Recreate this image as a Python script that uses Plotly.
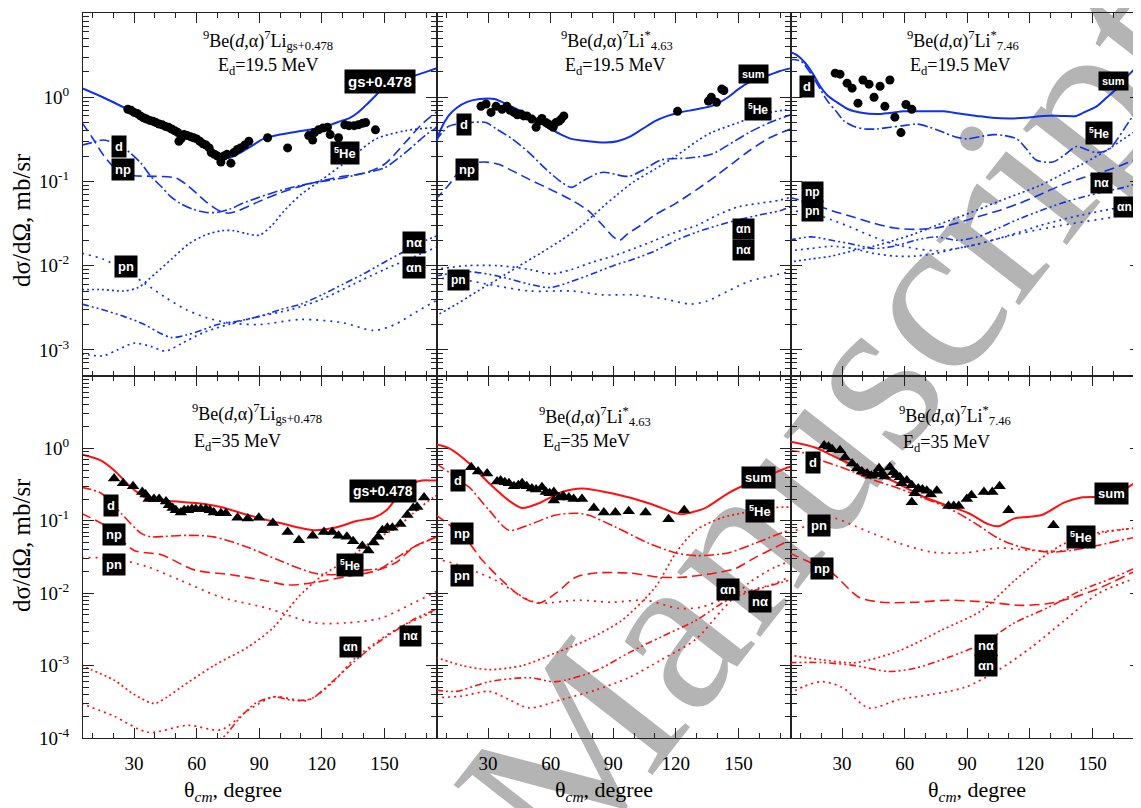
import numpy as np
import plotly.graph_objects as go

# ---------------- data (angles in degrees, cross sections in mb/sr) ----------------
# Panel 1: 9Be(d,a)7Li gs+0.478, Ed=19.5 MeV
p1_exp_x = [27,28.5,30,31.5,33,34.5,36,37.5,39,40.5,42,43.5,45,46.5,48,49.5,51,51.5,52.5,54,55.5,57,58.5,60,61.5,63,64.5,66,67,68.5,70,71.6,73,74.5,76.4,77.8,79.5,81,83,85,94,103.6,113.7,115.6,116.5,118.4,120.5,122.7,124,128,131,133,135.5,137.5,139.5,141,145.7]
p1_exp_y = [0.72,0.70,0.66,0.64,0.60,0.57,0.55,0.53,0.52,0.50,0.48,0.47,0.45,0.44,0.42,0.40,0.38,0.30,0.32,0.36,0.35,0.34,0.33,0.32,0.30,0.28,0.27,0.25,0.22,0.21,0.20,0.17,0.20,0.21,0.165,0.22,0.24,0.25,0.27,0.30,0.33,0.25,0.35,0.31,0.38,0.41,0.43,0.44,0.36,0.33,0.47,0.46,0.46,0.47,0.49,0.50,0.41]
p1_sum_x = [5,15,25,35,45,53,60,65,70,75,81,87,92,100,108,116,124,129,133,137,141,145,149,153,158,164,170,176]
p1_sum_y = [1.28,1.0,0.76,0.58,0.46,0.38,0.31,0.26,0.22,0.19,0.22,0.27,0.32,0.36,0.39,0.42,0.47,0.52,0.56,0.65,0.8,1.0,1.25,1.42,1.56,1.78,2.0,2.25]
p1_d_x = [5,10,15,20,25,28,33,38,43,47,52,58,64,70,76,82,90,100,110,120,130,140,150,160,170,176]
p1_d_y = [0.27,0.29,0.31,0.29,0.25,0.22,0.168,0.115,0.087,0.068,0.055,0.047,0.043,0.043,0.047,0.055,0.065,0.078,0.09,0.1,0.11,0.125,0.145,0.22,0.36,0.45]
p1_np_x = [5,10,15,20,25,30,40,50,55,60,65,70,75,80,90,100,110,120,130,140,150,160,168,176]
p1_np_y = [0.5,0.33,0.21,0.15,0.125,0.117,0.115,0.11,0.092,0.072,0.056,0.046,0.042,0.045,0.058,0.073,0.088,0.102,0.115,0.125,0.16,0.29,0.48,0.7]
p1_he_x = [5,15,25,32,40,48,56,64,72,78,84,90,96,102,110,120,130,137,146,160,176]
p1_he_y = [0.0052,0.0052,0.005,0.0055,0.008,0.012,0.018,0.023,0.026,0.026,0.024,0.023,0.03,0.045,0.07,0.105,0.16,0.22,0.32,0.4,0.44]
p1_pn_x = [5,15,25,35,45,55,65,75,90,110,130,145,155,165,176]
p1_pn_y = [0.014,0.012,0.009,0.0062,0.0042,0.003,0.0024,0.0021,0.002,0.0023,0.0021,0.0017,0.002,0.0028,0.004]
p1_na_x = [5,15,25,35,42,48,55,62,70,80,90,100,110,120,130,140,150,160,170,176]
p1_na_y = [0.0035,0.003,0.0025,0.002,0.0016,0.0014,0.0015,0.0017,0.002,0.0022,0.0025,0.003,0.0035,0.0045,0.006,0.008,0.011,0.015,0.02,0.023]
p1_an_x = [5,15,22,30,38,45,53,63,75,90,105,120,135,150,165,176]
p1_an_y = [0.0009,0.00085,0.001,0.0012,0.0011,0.00097,0.0012,0.0016,0.002,0.0025,0.003,0.004,0.006,0.009,0.013,0.017]

# Panel 2: 9Be(d,a)7Li* 4.63, Ed=19.5 MeV
p2_exp_x = [26.6,29,31.4,33.8,36.7,39,40.5,42.4,44,45.8,47,48.6,51,53,54.5,55.8,57.7,59,60,61.2,62.5,64,65,66.3,120.8,135.6,137,139.5,142,143]
p2_exp_y = [0.78,0.83,0.66,0.78,0.72,0.78,0.70,0.66,0.62,0.63,0.60,0.60,0.55,0.44,0.52,0.56,0.50,0.48,0.46,0.44,0.50,0.52,0.55,0.60,0.68,0.90,1.0,0.87,1.25,1.2]
p2_sum_x = [4.5,7,11,15,20,26,33,40,45,50,55,60,65,70,78,86,92,98,104,110,116,122,130,138,145,150,155,160,165,170,175]
p2_sum_y = [0.25,0.4,0.6,0.75,0.88,0.95,0.95,0.8,0.7,0.6,0.5,0.42,0.36,0.32,0.3,0.29,0.3,0.34,0.42,0.52,0.6,0.66,0.72,0.8,1.0,1.25,1.5,1.7,1.85,2.05,2.2]
p2_d_x = [4.5,8,11,15,21,29,34,41.5,49.6,57.7,65.4,70,75,84.5,97.4,105,113,126,137,145,155,165,175]
p2_d_y = [0.3,0.38,0.45,0.48,0.5,0.5,0.42,0.32,0.22,0.14,0.097,0.085,0.1,0.128,0.115,0.14,0.18,0.19,0.21,0.27,0.38,0.5,0.62]
p2_np_x = [4.5,11,16,21,28,35,40,50,60,70,78,85,90,93,97,103,110,120,130,140,148,155,165,175]
p2_np_y = [0.06,0.09,0.13,0.16,0.17,0.16,0.14,0.105,0.08,0.06,0.045,0.03,0.022,0.02,0.024,0.03,0.04,0.055,0.08,0.12,0.17,0.23,0.33,0.42]
p2_he_x = [4.5,15,25,35,45,55,65,75,85,92,100,110,120,130,137,150,161,175]
p2_he_y = [0.0025,0.0035,0.005,0.007,0.01,0.014,0.02,0.03,0.05,0.07,0.1,0.14,0.2,0.3,0.38,0.5,0.63,0.72]
p2_pn_x = [4.5,15,30,50,70,85,100,115,127,135,145,155,165,175]
p2_pn_y = [0.007,0.007,0.006,0.005,0.005,0.0045,0.0045,0.004,0.0035,0.0038,0.005,0.0065,0.0075,0.0085]
p2_an_x = [4.5,20,35,50,60,70,80,90,100,110,120,130,140,150,160,170,175]
p2_an_y = [0.009,0.01,0.01,0.009,0.008,0.009,0.011,0.013,0.016,0.02,0.025,0.03,0.04,0.05,0.055,0.06,0.065]
p2_na_x = [4.5,20,35,50,60,70,80,90,100,110,120,130,140,150,160,170,175]
p2_na_y = [0.0075,0.0085,0.0075,0.006,0.0055,0.0065,0.008,0.01,0.012,0.015,0.02,0.025,0.03,0.035,0.04,0.045,0.05]

# Panel 3: 9Be(d,a)7Li* 7.46, Ed=19.5 MeV
p3_exp_x = [26.7,29,32.4,34.8,37.6,40,42.9,45.3,48.2,50.5,52.9,55.3,58.2,60.6,63.4]
p3_exp_y = [1.93,1.88,1.47,1.28,0.85,1.6,1.43,1.0,1.35,0.78,1.6,0.58,0.38,0.82,0.72]
p3_sum_x = [4.5,8,12,16,19.5,23,27.6,33,38.6,46.7,53,59.6,70,78.8,86,94.5,102,110,118,126.5,135,142.3,147,152,157,161.5,166,171.5,174]
p3_sum_y = [3.5,3.2,2.6,1.9,1.35,1.05,0.87,0.72,0.66,0.63,0.65,0.68,0.68,0.68,0.64,0.6,0.57,0.56,0.57,0.6,0.6,0.6,0.68,0.78,1.0,1.25,1.7,2.3,2.6]
p3_d_x = [4.5,10,15,19.5,23,27.6,31,35.7,41,46.7,53,59.6,65.8,72,78.8,84,89.8,96,102.7,108,113.7,118,123,131,137,142.3,147,152,158,162,166,171.5,174]
p3_d_y = [2.8,2.7,1.9,1.25,0.9,0.66,0.52,0.45,0.42,0.42,0.44,0.46,0.48,0.44,0.38,0.34,0.32,0.34,0.36,0.35,0.32,0.25,0.18,0.17,0.21,0.26,0.24,0.22,0.24,0.32,0.45,0.72,0.9]
p3_grid = [4.5,15,25,35,45,55,65,75,85,95,105,115,125,135,145,155,165,174]
p3_np_y = [0.065,0.055,0.045,0.038,0.032,0.028,0.027,0.028,0.032,0.038,0.045,0.055,0.07,0.09,0.11,0.13,0.16,0.2]
p3_pn_y = [0.045,0.042,0.035,0.028,0.022,0.018,0.016,0.015,0.016,0.018,0.021,0.024,0.027,0.03,0.033,0.036,0.04,0.045]
p3_he_y = [0.011,0.012,0.013,0.015,0.017,0.02,0.024,0.03,0.037,0.046,0.058,0.072,0.09,0.12,0.16,0.22,0.32,0.45]
p3_na_y = [0.02,0.022,0.02,0.018,0.016,0.017,0.02,0.022,0.02,0.022,0.028,0.036,0.045,0.055,0.065,0.075,0.085,0.1]
p3_an_y = [0.015,0.016,0.017,0.016,0.014,0.013,0.013,0.014,0.016,0.018,0.021,0.025,0.03,0.035,0.04,0.045,0.05,0.055]

# Panel 4: 9Be(d,a)7Li gs+0.478, Ed=35 MeV
p4_exp_x = [20.4,24.7,29.5,33.9,35.5,37,39.5,42,45.3,46.7,48.5,50,52.4,54,55.8,57.7,59.6,62,64.4,66.3,68.2,71.6,74,79.6,84.5,89.8,96.5,103.6,109,115.6,121,125,128,132,135,139.4,142.3,144.8,147,149,151.4,153.8,157.6,161,163.8,165.7,169]
p4_exp_y = [0.385,0.33,0.30,0.25,0.23,0.20,0.20,0.20,0.185,0.164,0.15,0.14,0.13,0.14,0.14,0.145,0.145,0.145,0.145,0.14,0.13,0.127,0.127,0.11,0.108,0.11,0.093,0.07,0.054,0.062,0.07,0.07,0.062,0.06,0.052,0.045,0.039,0.05,0.06,0.074,0.08,0.08,0.09,0.12,0.15,0.155,0.21]
p4_sum_x = [4.7,14.2,20.4,28.6,36.7,49,60.6,71.6,84.5,100,116,126,137,144.8,151,157.6,163.8,168,173.4,176]
p4_sum_y = [0.83,0.68,0.5,0.29,0.2,0.186,0.175,0.155,0.12,0.093,0.074,0.08,0.1,0.11,0.14,0.24,0.33,0.36,0.36,0.36]
p4_d_x = [4.7,14.2,23.8,33.4,38,45,55.8,68.2,84.5,100,116,125.6,141.9,148,156,163.8,173.4,176]
p4_d_y = [0.29,0.24,0.126,0.067,0.06,0.061,0.063,0.06,0.043,0.028,0.019,0.018,0.021,0.022,0.031,0.043,0.057,0.06]
p4_np_x = [4.7,17.6,30,43,58.8,76.5,92.3,103.6,116,132,144.8,156,163.8,175]
p4_np_y = [0.127,0.081,0.039,0.034,0.021,0.018,0.015,0.013,0.014,0.017,0.02,0.027,0.043,0.06]
p4_pn_x = [4.7,20.4,36.7,52.4,71.6,94,116,132,148,163.8,173.4,176]
p4_pn_y = [0.031,0.03,0.023,0.015,0.0088,0.0062,0.0039,0.0039,0.0045,0.0073,0.01,0.011]
p4_he_x = [4.7,20.4,30,39.6,46,52.4,68.2,84.5,97,108.6,119.6,132,144.8,156,163.8,173.4,176]
p4_he_y = [0.001,0.00063,0.0004,0.0003,0.00037,0.0005,0.001,0.0018,0.0034,0.0088,0.017,0.029,0.054,0.081,0.127,0.21,0.23]
p4_an_x = [4.7,20.4,36.7,55.8,71.6,84.5,97,113,125.6,135,148,157.6,172,176]
p4_an_y = [0.0003,0.0002,0.00012,0.00015,0.00013,0.00024,0.00037,0.00033,0.0006,0.0012,0.0023,0.0034,0.0053,0.006]
p4_na_x = [40,60,72,80,88,97,106,115,125,135,145,155,165,176]
p4_na_y = [0.00007,0.00009,0.0001,0.00018,0.0003,0.00037,0.00033,0.00035,0.0006,0.0011,0.0019,0.003,0.0045,0.0062]

# Panel 5: 9Be(d,a)7Li* 4.63, Ed=35 MeV
p5_exp_x = [21.9,25.2,29.5,34.3,36,38,40,42.4,44.5,46.3,48.5,51,53,55.8,57.7,59.5,61.5,61.5,64,66,68.7,71,75,80.7,85.5,91,97.4,105.5,116.5,124]
p5_exp_y = [0.55,0.48,0.45,0.35,0.36,0.34,0.33,0.30,0.31,0.33,0.30,0.28,0.27,0.29,0.25,0.24,0.25,0.19,0.21,0.22,0.21,0.20,0.20,0.15,0.13,0.13,0.135,0.13,0.105,0.14]
p5_sum_x = [5.1,11.4,21,30.5,40,46.3,54.4,65.4,75,89.3,107,120,123,134,145,154.8,164,174,175.5]
p5_sum_y = [1.14,1.0,0.62,0.33,0.19,0.15,0.175,0.25,0.28,0.24,0.175,0.127,0.123,0.15,0.24,0.33,0.42,0.55,0.56]
p5_d_x = [5,12,18,21,30.5,40,49.6,62.5,72,78,91,107,120,129.5,145,158,167.7,174]
p5_d_y = [0.62,0.45,0.33,0.29,0.14,0.074,0.088,0.12,0.127,0.12,0.082,0.049,0.036,0.033,0.036,0.049,0.063,0.074]
p5_np_x = [5,12,21,27,36.7,46.3,54.4,62.5,72,81.6,97.4,113,123,139,148.6,158,167.7,174]
p5_np_y = [0.12,0.085,0.049,0.029,0.015,0.0088,0.0073,0.01,0.0166,0.019,0.019,0.0166,0.0166,0.019,0.022,0.031,0.043,0.053]
p5_pn_x = [5,15,25.7,33.8,49.6,55.8,73.5,89.3,105.5,121,132,145,156,167.7,174]
p5_pn_y = [0.03,0.025,0.019,0.015,0.008,0.0073,0.008,0.0075,0.008,0.0062,0.0064,0.0088,0.011,0.0137,0.0166]
p5_he_x = [5,17.6,30.5,46.3,62.5,78,94,110,120,129.5,142,153,164,174]
p5_he_y = [0.0013,0.001,0.00088,0.001,0.0015,0.0023,0.0042,0.012,0.036,0.074,0.11,0.13,0.15,0.155]
p5_na_x = [5,14.7,30.5,49.6,62.5,81.6,97.4,113,129.5,145,158,174]
p5_na_y = [0.00046,0.00044,0.0006,0.00068,0.0006,0.00085,0.0015,0.0025,0.0042,0.0081,0.011,0.015]
p5_an_x = [5,17.6,30.5,40,49.6,65.4,81.6,97.4,113,129.5,142,154.8,167.7,174]
p5_an_y = [0.00036,0.00038,0.00044,0.00034,0.00026,0.00034,0.00046,0.00068,0.0012,0.0023,0.0058,0.0137,0.023,0.027]

# Panel 6: 9Be(d,a)7Li* 7.46, Ed=35 MeV
p6_exp_x = [21.4,23.5,25.2,29,31.4,34.8,37.2,39.5,42,44,46,47.7,49,50.5,52.9,54.5,56,57.7,58.5,61,63.4,64.8,63.4,66.5,68.5,70.6,72.5,75.4,81,83.5,85.9,89.8,92,98,102,105.5,109.8,131.3]
p6_exp_y = [1.1,1.05,0.97,0.94,0.75,0.62,0.53,0.48,0.45,0.42,0.44,0.53,0.45,0.41,0.55,0.47,0.43,0.40,0.33,0.36,0.31,0.24,0.18,0.28,0.27,0.26,0.23,0.26,0.16,0.16,0.16,0.20,0.225,0.25,0.25,0.30,0.14,0.087]
p6_sum_x = [4.7,17,25.2,33.3,42.9,53.9,68.2,81,90.7,100,105,112.7,125.6,136.6,144.7,160.5,167,171.5,174]
p6_sum_y = [1.25,1.03,0.8,0.62,0.47,0.36,0.22,0.16,0.127,0.09,0.084,0.108,0.12,0.18,0.21,0.22,0.29,0.35,0.38]
p6_d_x = [4.7,10.9,20.4,33.3,45.8,57.3,68.2,81,93.6,105,116,129,140,153,163.8,171.5,174]
p6_d_y = [0.94,0.88,0.68,0.5,0.36,0.28,0.21,0.15,0.093,0.057,0.043,0.037,0.039,0.046,0.054,0.06,0.062]
p6_pn_x = [4.7,15,25.2,34,42.9,57.3,73,88.8,105,120.8,136.6,154,171.5,174]
p6_pn_y = [0.067,0.09,0.11,0.09,0.07,0.049,0.037,0.036,0.042,0.039,0.039,0.067,0.08,0.082]
p6_np_x = [4.7,14.2,25.2,38,49,64.8,81,100,116,129,141.4,154,171.5,174]
p6_np_y = [0.036,0.027,0.019,0.0088,0.0075,0.0075,0.008,0.0075,0.0068,0.0072,0.0088,0.012,0.021,0.023]
p6_he_x = [4.7,20.4,36.2,57.3,77.8,97,112.7,129,140,153,171.5,174]
p6_he_y = [0.0014,0.0012,0.0011,0.0016,0.0031,0.0058,0.015,0.036,0.054,0.069,0.08,0.082]
p6_na_x = [4.7,20.4,36.2,52.4,64.8,81,97,112.7,129,144.7,160.5,171.5,174]
p6_na_y = [0.0011,0.0011,0.001,0.00083,0.00092,0.0013,0.002,0.0039,0.0064,0.011,0.0166,0.023,0.025]
p6_an_x = [4.7,12,20.4,30,42.9,57.3,73,88.8,105,120.8,136.6,153,171.5,174]
p6_an_y = [0.00041,0.00052,0.0006,0.0005,0.00026,0.00034,0.0004,0.0005,0.00087,0.0018,0.0042,0.01,0.0166,0.018]

# axis tick labels and texts
x_ticks = [30, 60, 90, 120, 150]
y_ticks_top = [1e-3, 1e-2, 1e-1, 1]
y_ticks_bot = [1e-4, 1e-3, 1e-2, 1e-1, 1]
titles = ["<sup>9</sup>Be(<i>d</i>,α)<sup>7</sup>Li<sub>gs+0.478</sub>",
          "<sup>9</sup>Be(<i>d</i>,α)<sup>7</sup>Li<sup>*</sup><sub>4.63</sub>",
          "<sup>9</sup>Be(<i>d</i>,α)<sup>7</sup>Li<sup>*</sup><sub>7.46</sub>"]
energies = ["E<sub>d</sub>=19.5 MeV", "E<sub>d</sub>=35 MeV"]

# ---------------- figure ----------------
# page body has an 8px margin, so the figure is 8px smaller than the window on each used side
OFF = 8
W, H = 1141 - OFF, 808 - OFF
ML, MR, MT, MB = 83 - OFF, 0, 13 - OFF, 808 - 738
PW, PH = W - ML - MR, H - MT - MB
SERIF = 'Liberation Serif'

def fx(px):  # reference window pixel -> paper x
    return (px - OFF - ML) / PW

def fy(py):  # reference window pixel -> paper y
    return (H - MB - (py - OFF)) / PH

COLS = [(83, 437), (437, 791), (791, 1141)]
ROWS = [(13, 376), (376, 738)]
XR = [[5.5, 175.2], [5.5, 175.2], [5.5, 5.5 + 350 / 354 * 169.7]]
YR = [[-3.31, 1.0], [-4.0, 1.0]]

BLUE = "#1030f0"
RED = "#ff1010"
STYLE = {
    'sum': dict(dash='solid', width=2),
    'd': dict(dash='10px,3px,2px,3px', width=1.6),
    'np': dict(dash='10px,5px', width=1.6),
    'pn': dict(dash='2px,5px', width=1.7),
    'he': dict(dash='2px,3px', width=1.7),
    'na': dict(dash='7px,3px,2px,3px,2px,3px', width=1.6),
    'an': dict(dash='2px,4px', width=1.7),
}

fig = go.Figure()

def ax(p):
    return ('x' if p == 1 else f'x{p}'), ('y' if p == 1 else f'y{p}')

def curve(p, kind, xs, ys, color):
    xa, ya = ax(p)
    fig.add_trace(go.Scatter(x=xs, y=ys, mode='lines', xaxis=xa, yaxis=ya,
                             line=dict(color=color, width=STYLE[kind]['width'], dash=STYLE[kind]['dash'],
                                       shape='spline', smoothing=0.8),
                             showlegend=False, hoverinfo='skip'))

def points(p, xs, ys, symbol, size):
    xa, ya = ax(p)
    fig.add_trace(go.Scatter(x=xs, y=ys, mode='markers', xaxis=xa, yaxis=ya,
                             marker=dict(symbol=symbol, size=size, color='black'),
                             showlegend=False))

# panel 1
curve(1, 'he', p1_he_x, p1_he_y, BLUE)
curve(1, 'pn', p1_pn_x, p1_pn_y, BLUE)
curve(1, 'na', p1_na_x, p1_na_y, BLUE)
curve(1, 'an', p1_an_x, p1_an_y, BLUE)
curve(1, 'np', p1_np_x, p1_np_y, BLUE)
curve(1, 'd', p1_d_x, p1_d_y, BLUE)
curve(1, 'sum', p1_sum_x, p1_sum_y, BLUE)
points(1, p1_exp_x, p1_exp_y, 'circle', 9)
# panel 2
curve(2, 'he', p2_he_x, p2_he_y, BLUE)
curve(2, 'pn', p2_pn_x, p2_pn_y, BLUE)
curve(2, 'na', p2_na_x, p2_na_y, BLUE)
curve(2, 'an', p2_an_x, p2_an_y, BLUE)
curve(2, 'np', p2_np_x, p2_np_y, BLUE)
curve(2, 'd', p2_d_x, p2_d_y, BLUE)
curve(2, 'sum', p2_sum_x, p2_sum_y, BLUE)
points(2, p2_exp_x, p2_exp_y, 'circle', 9)
# panel 3
curve(3, 'he', p3_grid, p3_he_y, BLUE)
curve(3, 'pn', p3_grid, p3_pn_y, BLUE)
curve(3, 'na', p3_grid, p3_na_y, BLUE)
curve(3, 'an', p3_grid, p3_an_y, BLUE)
curve(3, 'np', p3_grid, p3_np_y, BLUE)
curve(3, 'd', p3_d_x, p3_d_y, BLUE)
curve(3, 'sum', p3_sum_x, p3_sum_y, BLUE)
points(3, p3_exp_x, p3_exp_y, 'circle', 9)
# panel 4
curve(4, 'he', p4_he_x, p4_he_y, RED)
curve(4, 'pn', p4_pn_x, p4_pn_y, RED)
curve(4, 'na', p4_na_x, p4_na_y, RED)
curve(4, 'an', p4_an_x, p4_an_y, RED)
curve(4, 'np', p4_np_x, p4_np_y, RED)
curve(4, 'd', p4_d_x, p4_d_y, RED)
curve(4, 'sum', p4_sum_x, p4_sum_y, RED)
points(4, p4_exp_x, p4_exp_y, 'triangle-up', 11)
# panel 5
curve(5, 'he', p5_he_x, p5_he_y, RED)
curve(5, 'pn', p5_pn_x, p5_pn_y, RED)
curve(5, 'na', p5_na_x, p5_na_y, RED)
curve(5, 'an', p5_an_x, p5_an_y, RED)
curve(5, 'np', p5_np_x, p5_np_y, RED)
curve(5, 'd', p5_d_x, p5_d_y, RED)
curve(5, 'sum', p5_sum_x, p5_sum_y, RED)
points(5, p5_exp_x, p5_exp_y, 'triangle-up', 11)
# panel 6
curve(6, 'he', p6_he_x, p6_he_y, RED)
curve(6, 'pn', p6_pn_x, p6_pn_y, RED)
curve(6, 'na', p6_na_x, p6_na_y, RED)
curve(6, 'an', p6_an_x, p6_an_y, RED)
curve(6, 'np', p6_np_x, p6_np_y, RED)
curve(6, 'd', p6_d_x, p6_d_y, RED)
curve(6, 'sum', p6_sum_x, p6_sum_y, RED)
points(6, p6_exp_x, p6_exp_y, 'triangle-up', 11)

# axes
minor_y = [k * 10.0 ** n for n in range(-5, 1) for k in range(2, 10)]
layout_axes = {}
for p in range(1, 7):
    r, c = (p - 1) // 3, (p - 1) % 3
    xkey = 'xaxis' if p == 1 else f'xaxis{p}'
    ykey = 'yaxis' if p == 1 else f'yaxis{p}'
    xa, ya = ax(p)
    common = dict(showline=True, linecolor='#222', linewidth=1.2, mirror='ticks',
                  ticks='inside', tickcolor='#222', tickwidth=1.2, showgrid=False, zeroline=False,
                  tickfont=dict(family=SERIF, size=19, color='black'))
    layout_axes[xkey] = dict(domain=[fx(COLS[c][0]), fx(COLS[c][1])], range=XR[c], anchor=ya,
                             tickmode='array', tickvals=x_ticks, ticklen=10,
                             showticklabels=(r == 1), ticklabelstandoff=8,
                             minor=dict(dtick=10, tick0=0, ticks='inside', ticklen=5, tickcolor='#222'),
                             **common)
    yt = y_ticks_top if r == 0 else y_ticks_bot
    layout_axes[ykey] = dict(domain=[fy(ROWS[r][1]), fy(ROWS[r][0])], range=YR[r], type='log', anchor=xa,
                             tickmode='array', tickvals=yt,
                             ticktext=["10<sup>%d</sup>" % int(round(np.log10(v))) for v in yt],
                             ticklen=11, showticklabels=(c == 0), ticklabelstandoff=9,
                             minor=dict(tickmode='array', tickvals=minor_y, ticks='inside', ticklen=6,
                                        tickcolor='#222'),
                             **common)

fig.update_layout(width=W, height=H, margin=dict(l=ML, r=MR, t=MT, b=MB),
                  paper_bgcolor='white', plot_bgcolor='rgba(0,0,0,0)',
                  font=dict(family=SERIF, size=19, color='black'),
                  showlegend=False, **layout_axes)

# watermark (behind data)
fig.add_shape(type='line', xref='paper', yref='paper',
              x0=fx(440), y0=fy(862), x1=fx(1180), y1=fy(-48),
              line=dict(color='rgba(0,0,0,0)', width=1), layer='below',
              label=dict(text='Manuscript', textposition='middle', yanchor='middle', textangle=-52,
                         font=dict(family=SERIF, size=230, color='#b4b4b4')))

# panel titles
title_pos = [((268, 40), (268, 67)), ((617, 40), (615, 67)), ((963, 40), (960, 67)),
             ((257, 413), (237, 442)), ((595, 417), (586, 442)), ((955, 415), (946, 443))]
for p in range(1, 7):
    (x1, y1), (x2, y2) = title_pos[p - 1]
    fig.add_annotation(xref='paper', yref='paper', x=fx(x1), y=fy(y1), text=titles[(p - 1) % 3],
                       showarrow=False, font=dict(family=SERIF, size=18), xanchor='center', yanchor='middle')
    fig.add_annotation(xref='paper', yref='paper', x=fx(x2), y=fy(y2), text=energies[(p - 1) // 3],
                       showarrow=False, font=dict(family=SERIF, size=18), xanchor='center', yanchor='middle')

# curve label boxes (panel, text, angle, value, size)
HE = "<sup>5</sup>He"
labels = [
    (1, "gs+0.478", 148, 1.55, 15), (1, "d", 22.8, 0.26, 13), (1, "np", 24.7, 0.139, 13),
    (1, HE, 131, 0.22, 13), (1, "pn", 26, 0.0098, 13), (1, "nα", 164, 0.019, 13), (1, "αn", 164, 0.0095, 13),
    (2, "d", 18.5, 0.48, 13), (2, "np", 20, 0.139, 13), (2, "sum", 157, 1.88, 11), (2, HE, 159.5, 0.72, 12),
    (2, "αn", 152.4, 0.027, 12), (2, "nα", 152.4, 0.0155, 12), (2, "pn", 16, 0.0068, 12),
    (3, "d", 13.3, 1.35, 13), (3, "sum", 160, 1.55, 11), (3, HE, 153.3, 0.38, 12),
    (3, "np", 15.6, 0.074, 12), (3, "pn", 15.6, 0.044, 12), (3, "nα", 154.3, 0.097, 12), (3, "αn", 165.3, 0.05, 12),
    (4, "d", 19, 0.164, 13), (4, "np", 20.4, 0.065, 13), (4, "pn", 20.4, 0.025, 13),
    (4, "gs+0.478", 149.5, 0.26, 14), (4, HE, 133.7, 0.0245, 12), (4, "αn", 133.7, 0.0018, 12), (4, "nα", 162.4, 0.0026, 12),
    (5, "d", 15.7, 0.36, 13), (5, "np", 17.6, 0.067, 13), (5, "pn", 17.6, 0.0177, 13), (5, "sum", 159.5, 0.4, 13),
    (5, HE, 160.5, 0.135, 13), (5, "αn", 145.2, 0.0114, 13), (5, "nα", 160.5, 0.0077, 13),
    (6, "d", 16.1, 0.64, 13), (6, "pn", 19, 0.087, 13), (6, "np", 20.4, 0.022, 13), (6, "sum", 159, 0.24, 13),
    (6, HE, 144.7, 0.059, 13), (6, "nα", 98.8, 0.0019, 13), (6, "αn", 98.8, 0.001, 13),
]
for p, txt, xv, yv, sz in labels:
    xa, ya = ax(p)
    fig.add_annotation(xref=xa, yref=ya, x=xv, y=np.log10(yv), text="<b>" + txt + "</b>",
                       showarrow=False, bgcolor='black', borderpad=3,
                       font=dict(family='Liberation Sans', size=sz, color='white'))

# axis titles
for py in (220, 545):
    fig.add_annotation(xref='paper', yref='paper', x=fx(21), y=fy(py), text="dσ/dΩ, mb/sr",
                       textangle=-90, showarrow=False, font=dict(family=SERIF, size=25),
                       xanchor='center', yanchor='middle')
for px in (233, 604, 977):
    fig.add_annotation(xref='paper', yref='paper', x=fx(px), y=fy(791), text="θ<sub><i>cm</i></sub>, degree",
                       showarrow=False, font=dict(family=SERIF, size=22), xanchor='center', yanchor='middle')

fig.write_html("out.html")
